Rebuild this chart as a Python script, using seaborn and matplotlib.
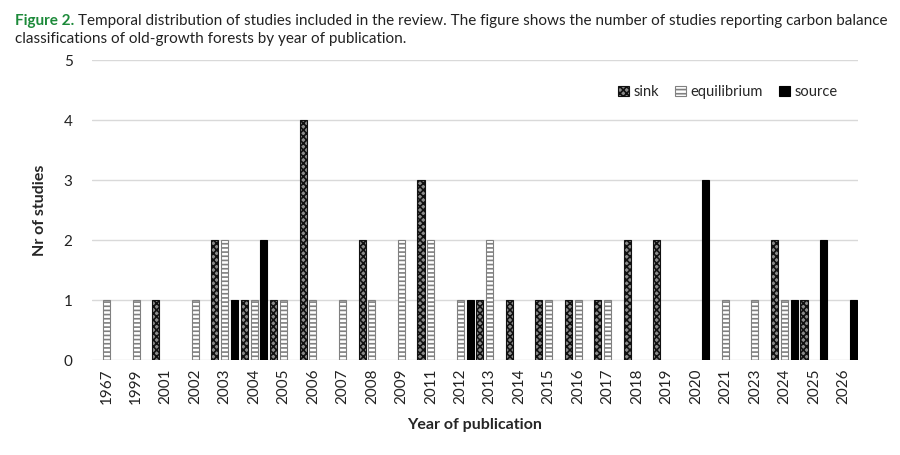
import matplotlib
import matplotlib.patches as mpatches
import matplotlib.pyplot as plt
import seaborn as sns
import pandas as pd

years = ['1967', '1999', '2001', '2002', '2003', '2004', '2005', '2006', '2007',
         '2008', '2009', '2011', '2012', '2013', '2014', '2015', '2016', '2017',
         '2018', '2019', '2020', '2021', '2023', '2024', '2025', '2026']
sink = [0, 0, 1, 0, 2, 1, 1, 4, 0, 2, 0, 3, 0, 1, 1, 1, 1, 1, 2, 2, 0, 0, 0, 2, 1, 0]
equilibrium = [1, 1, 0, 1, 2, 1, 1, 1, 1, 1, 2, 2, 1, 2, 0, 1, 1, 1, 0, 0, 0, 1, 1, 1, 0, 0]
source = [0, 0, 0, 0, 1, 2, 0, 0, 0, 0, 0, 0, 1, 0, 0, 0, 0, 0, 0, 0, 3, 0, 0, 1, 2, 1]
kinds = ['sink', 'equilibrium', 'source']

'''long form table for seaborn'''
rows = []
for kind, vals in zip(kinds, [sink, equilibrium, source]):
    for year, v in zip(years, vals):
        rows.append({'year': year, 'kind': kind, 'count': v})
df = pd.DataFrame(rows)

sns.set_theme(style='white')
plt.rcParams['font.family'] = ['Lato', 'DejaVu Sans']
plt.rcParams['hatch.linewidth'] = 1.2

styles = {
    'sink': dict(facecolor='#8c8c8c', edgecolor='#111111', hatch='xxxxx'),
    'equilibrium': dict(facecolor='white', edgecolor='#808080', hatch='----'),
    'source': dict(facecolor='black', edgecolor='black', hatch=None),
}

fig = plt.figure(figsize=(9, 4.55), dpi=100)
ax = fig.add_axes([92 / 900, 1 - 360 / 455, 766 / 900, 300 / 455])

sns.barplot(data=df, x='year', y='count', hue='kind', hue_order=kinds, order=years,
            width=1.0, gap=0.28, errorbar=None, legend=False, ax=ax,
            palette=['white', 'white', 'black'])

for kind, container in zip(kinds, ax.containers):
    st = styles[kind]
    for bar in container:
        bar.set_facecolor(st['facecolor'])
        bar.set_edgecolor(st['edgecolor'])
        bar.set_hatch(st['hatch'])
        bar.set_linewidth(0.8 if bar.get_height() > 0 else 0)

ax.set_ylim(0, 5)
ax.set_yticks(range(6))
ax.set_xlim(-0.5, len(years) - 0.5)
ax.yaxis.grid(True, color='#d9d9d9', linewidth=1)
ax.set_axisbelow(True)
sns.despine(ax=ax, left=True, bottom=True)
ax.tick_params(axis='both', length=0, labelsize=11, colors='#222222')
ax.tick_params(axis='x', rotation=90, pad=6)
ax.tick_params(axis='y', pad=14)

ax.set_xlabel('Year of publication', fontsize=11.5, fontweight='bold', labelpad=10)
ax.set_ylabel('Nr of studies', fontsize=11.5, fontweight='bold', labelpad=12)

handles = [mpatches.Patch(facecolor=styles[k]['facecolor'], edgecolor=styles[k]['edgecolor'],
                          hatch=styles[k]['hatch'], linewidth=0.8, label=k) for k in kinds]
ax.legend(handles=handles, loc='upper right', ncol=3, frameon=False, fontsize=10.5,
          handlelength=0.75, handleheight=0.75, handletextpad=0.3, columnspacing=1.1,
          bbox_to_anchor=(0.99, 0.96))

'''caption above the chart'''
fig.text(15 / 900, 1 - 21 / 455, 'Figure 2.', color='#1d8a3a', fontweight='bold',
         fontsize=11, va='center')
fig.text(78 / 900, 1 - 21 / 455,
         'Temporal distribution of studies included in the review. The figure shows the number of '
         'studies reporting carbon balance', fontsize=11, va='center', color='#222222')
fig.text(15 / 900, 1 - 39 / 455, 'classifications of old-growth forests by year of publication.',
         fontsize=11, va='center', color='#222222')

fig.savefig('out.png', dpi=100)
